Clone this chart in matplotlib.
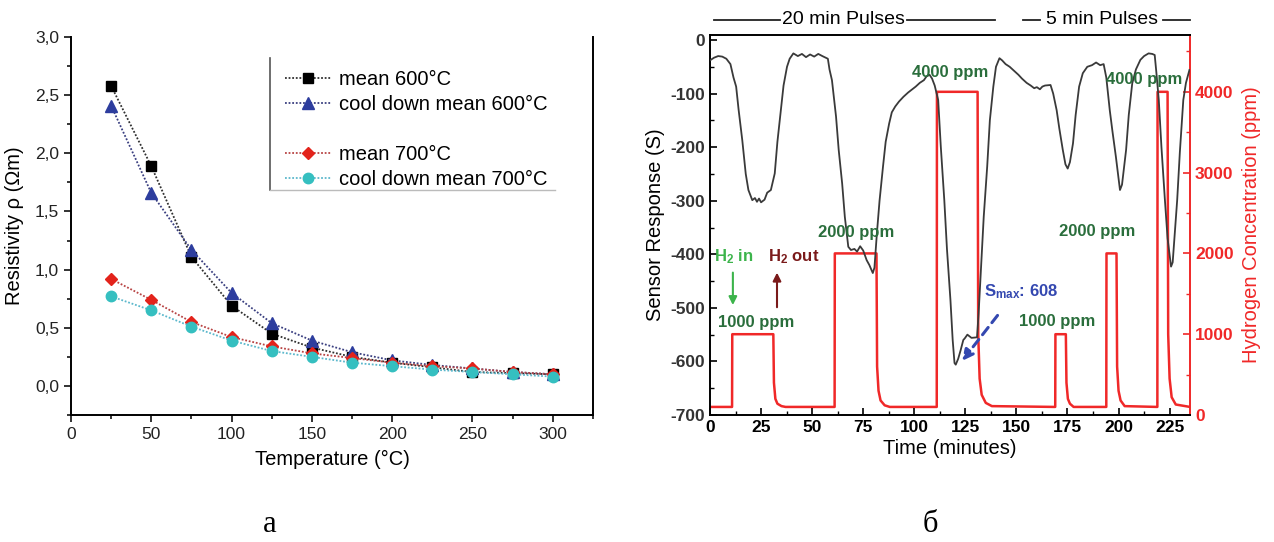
import matplotlib
matplotlib.use('Agg')
import matplotlib.pyplot as plt
import matplotlib.transforms as mtransforms
from matplotlib.lines import Line2D
from matplotlib.ticker import MultipleLocator, FuncFormatter

plt.rcParams['font.family'] = ['Liberation Sans', 'DejaVu Sans']
plt.rcParams['mathtext.fontset'] = 'custom'
plt.rcParams['mathtext.rm'] = 'Liberation Sans'
plt.rcParams['mathtext.bf'] = 'Liberation Sans:bold'
plt.rcParams['mathtext.it'] = 'Liberation Sans:italic'

# ---------------- data: panel (a) ----------------
temps = [25, 50, 75, 100, 125, 150, 175, 200, 225, 250, 275, 300]
mean600 = [2.58, 1.89, 1.11, 0.69, 0.45, 0.33, 0.25, 0.20, 0.16, 0.12, 0.11, 0.10]
cool600 = [2.41, 1.66, 1.17, 0.80, 0.54, 0.39, 0.29, 0.22, 0.18, 0.15, 0.12, 0.10]
mean700 = [0.92, 0.74, 0.55, 0.42, 0.34, 0.28, 0.24, 0.20, 0.17, 0.15, 0.12, 0.10]
cool700 = [0.77, 0.65, 0.51, 0.39, 0.30, 0.25, 0.20, 0.17, 0.14, 0.12, 0.10, 0.08]
labels_a = ['mean 600°C', 'cool down mean 600°C', 'mean 700°C', 'cool down mean 700°C']

# ---------------- data: panel (b) ----------------
h2_t = [0, 10.8, 10.9, 31.0, 31.3, 32.0, 33.0, 35.0, 37.0,
        61.0, 61.1, 81.5, 81.8, 82.5, 83.5, 85.5, 88.0,
        111.0, 111.1, 131.0, 131.3, 132.0, 133.0, 135.0, 138.0,
        169.0, 169.1, 174.2, 174.5, 175.2, 176.2, 178.0,
        194.0, 194.1, 199.0, 199.3, 200.0, 201.0, 203.0,
        219.0, 219.1, 224.0, 224.3, 225.0, 226.0, 228.0, 235.0]
h2_ppm = [100, 100, 1000, 1000, 400, 200, 140, 110, 100,
          100, 2000, 2000, 600, 300, 180, 120, 100,
          100, 4000, 4000, 1000, 450, 250, 150, 110,
          100, 1000, 1000, 400, 200, 140, 100,
          100, 2000, 2000, 600, 300, 180, 110,
          100, 4000, 4000, 1000, 450, 220, 130, 100]

s_t = [0, 2, 4, 6, 8, 10, 11.5, 12.8, 14, 15.8, 17.5, 18.8, 20.7, 22, 23, 24, 25, 26.7, 28, 29.8,
       31.7, 33, 34.7, 36, 37.7, 39, 40.8, 43, 45, 47, 49, 51, 53, 55, 57.7, 58.5, 59.7, 61.7, 63,
       64.7, 66, 67.7, 69, 70.7, 72, 73.5, 75, 76.7, 78, 79.7, 80.5, 81.7, 83, 84.7, 86, 87.7, 89,
       90.7, 92.5, 94.7, 97, 100.7, 102.7, 104.7, 106, 107.5, 108.7, 110, 111.7, 113, 114.7, 116,
       117.7, 118.8, 119.7, 120.3, 121.5, 122.7, 124, 124.7, 126, 128, 130.7, 131.5, 132.7, 134,
       135.7, 137, 138.7, 140, 141.7, 143, 144.7, 146.7, 149, 151, 152.7, 155, 157, 158.7, 160,
       161.5, 162.7, 164, 166.7, 168, 169.7, 171, 172.7, 174, 175.1, 176.2, 177.7, 179, 180.7,
       182.5, 184.7, 187, 189, 191, 192.7, 194, 195.7, 197, 198.7, 200.7, 201.7, 203.7, 205,
       206.7, 208.5, 210.7, 212.5, 214.7, 216.5, 217.7, 218.5, 219.7, 221, 222.7, 224, 225.7,
       226.5, 228.7, 230, 231.7, 233, 234.7]
s_val = [-38, -33, -30, -31, -35, -45, -70, -87, -130, -187, -250, -280, -299, -295, -302, -296, -303, -298, -285, -280,
         -249, -190, -131, -85, -50, -35, -25, -30, -26, -32, -27, -31, -26, -30, -35, -55, -75, -143, -205,
         -268, -330, -386, -392, -390, -395, -385, -393, -411, -420, -435, -425, -361, -300, -236, -190, -156, -135,
         -124, -115, -106, -98, -87, -80, -75, -68, -65, -72, -85, -112, -200, -299, -390,
         -485, -560, -603, -606, -595, -579, -560, -557, -550, -556, -555, -510, -423, -330,
         -236, -150, -87, -50, -34, -38, -45, -50, -58, -65, -72, -80, -85, -90, -88,
         -92, -87, -85, -84, -100, -131, -165, -205, -232, -240, -228, -193, -140, -87,
         -62, -50, -47, -42, -47, -45, -70, -131, -170, -218, -280, -270, -205, -140,
         -81, -55, -37, -30, -25, -26, -28, -60, -112, -200, -299, -370, -423,
         -415, -299, -210, -112, -80, -56]

ann_text = ['1000 ppm', '2000 ppm', '4000 ppm', '1000 ppm', '2000 ppm', '4000 ppm']
ann_t = [22.8, 71.3, 117.6, 169.9, 189.5, 212.3]
ann_s = [-528, -360, -61, -526, -358, -73]

# ---------------- figure ----------------
fig = plt.figure(figsize=(12.74, 5.42), dpi=100)

# ===== panel (a) =====
ax1 = fig.add_axes([0.0557, 0.2343, 0.4097, 0.6974])
styles = [
    (mean600, 's', '#000000', '#303030', 7.5),
    (cool600, '^', '#2d3d9e', '#3a3f80', 8.5),
    (mean700, 'D', '#e3231b', '#b84444', 6.5),
    (cool700, 'o', '#35bfc0', '#5cb8cc', 7.5),
]
handles = []
for (vals, mk, mc, lc, ms), lab in zip(styles, labels_a):
    h, = ax1.plot(temps, vals, linestyle=(0, (1, 1)), color=lc, lw=1.3,
                  marker=mk, markersize=ms, markerfacecolor=mc, markeredgecolor=mc,
                  label=lab)
    handles.append(h)

ax1.set_xlim(0, 325)
ax1.set_ylim(-0.25, 3.0)
ax1.xaxis.set_major_locator(MultipleLocator(50))
ax1.xaxis.set_minor_locator(MultipleLocator(25))
ax1.yaxis.set_major_locator(MultipleLocator(0.5))
ax1.yaxis.set_minor_locator(MultipleLocator(0.25))
ax1.xaxis.set_major_formatter(FuncFormatter(lambda v, p: '%d' % v if v <= 300 else ''))
ax1.yaxis.set_major_formatter(FuncFormatter(lambda v, p: ('%.1f' % v).replace('.', ',')))
ax1.spines['top'].set_visible(False)
for s in ['left', 'bottom', 'right']:
    ax1.spines[s].set_linewidth(1.4)
ax1.tick_params(which='major', direction='out', length=5, width=1.3, labelsize=12.5, colors='#222222')
ax1.tick_params(which='minor', direction='out', length=3, width=1.1)
ax1.tick_params(axis='y', which='both', right=False)
ax1.set_xlabel('Temperature (°C)', fontsize=14.5, labelpad=6)
ax1.set_ylabel('Resistivity ρ (Ωm)', fontsize=14.5, labelpad=8)

blank = Line2D([], [], linestyle='none', marker='none')
leg = ax1.legend([handles[0], handles[1], blank, handles[2], handles[3]],
                 [labels_a[0], labels_a[1], ' ', labels_a[2], labels_a[3]],
                 loc='upper left', bbox_to_anchor=(275 / 1274, 1 - 60 / 542),
                 bbox_transform=fig.transFigure, frameon=False, fontsize=14.5,
                 handlelength=2.3, handletextpad=0.4, labelspacing=0.3, borderpad=0)
# legend frame remnants (left and bottom edges)
fig.add_artist(Line2D([270 / 1274, 270 / 1274], [1 - 58 / 542, 1 - 190 / 542],
                      transform=fig.transFigure, color='#555555', lw=1.2))
fig.add_artist(Line2D([270 / 1274, 555 / 1274], [1 - 190 / 542, 1 - 190 / 542],
                      transform=fig.transFigure, color='#bbbbbb', lw=1.0))

# ===== panel (b) =====
ax2 = fig.add_axes([0.5573, 0.2343, 0.3768, 0.7011])
ax3 = ax2.twinx()
red = '#f02828'
ax3.plot(h2_t, h2_ppm, color=red, lw=1.8, zorder=2)
ax2.plot(s_t, s_val, color='#3a3a3a', lw=1.3, zorder=3)
ax2.set_zorder(ax3.get_zorder() + 1)
ax2.patch.set_visible(False)

ax2.set_xlim(0, 235)
ax2.set_ylim(-700, 9.3)
ax3.set_ylim(0, 4703)
ax2.xaxis.set_major_locator(MultipleLocator(25))
ax2.xaxis.set_minor_locator(MultipleLocator(12.5))
ax2.yaxis.set_major_locator(MultipleLocator(100))
ax2.yaxis.set_minor_locator(MultipleLocator(50))
ax3.yaxis.set_major_locator(MultipleLocator(1000))
ax3.yaxis.set_minor_locator(MultipleLocator(500))
ax2.yaxis.set_major_formatter(FuncFormatter(lambda v, p: '%d' % v))

for s in ['left', 'bottom', 'top']:
    ax2.spines[s].set_linewidth(1.4)
ax2.spines['right'].set_visible(False)
for s in ['left', 'bottom', 'top']:
    ax3.spines[s].set_visible(False)
ax3.spines['right'].set_color(red)
ax3.spines['right'].set_linewidth(1.4)

ax2.tick_params(which='major', direction='in', length=5, width=1.2, labelsize=12.5, top=False)
ax2.tick_params(which='minor', direction='in', length=3, width=1.0, top=False)
ax2.tick_params(axis='y', which='both', right=False)
ax3.tick_params(axis='y', which='major', direction='in', length=5, width=1.2, colors=red, labelsize=12.5)
ax3.tick_params(axis='y', which='minor', direction='in', length=3, width=1.0, colors=red)
for lab in ax2.get_xticklabels() + ax2.get_yticklabels():
    lab.set_fontweight('bold')
for lab in ax2.get_yticklabels():
    lab.set_color('#333333')
for lab in ax3.get_yticklabels():
    lab.set_fontweight('bold')

ax2.set_xlabel('Time (minutes)', fontsize=14.5, labelpad=3)
ax2.set_ylabel('Sensor Response (S)', fontsize=14.5, labelpad=4)
ax3.set_ylabel('Hydrogen Concentration (ppm)', fontsize=14.5, color=red, labelpad=6)

green = '#2a6e3c'
for txt, t, s in zip(ann_text, ann_t, ann_s):
    ax2.text(t, s, txt, color=green, fontsize=12, fontweight='bold', ha='center', va='center', zorder=5)

ax2.text(11.7, -404, r'H$_\mathbf{2}$ in', color='#3cb44b', fontsize=12, fontweight='bold',
         ha='center', va='center', zorder=5)
ax2.annotate('', xy=(11.2, -500), xytext=(11.2, -429),
             arrowprops=dict(arrowstyle='-|>', color='#3cb44b', lw=1.5, mutation_scale=12), zorder=5)
ax2.text(40.8, -404, r'H$_\mathbf{2}$ out', color='#7a1a1a', fontsize=12, fontweight='bold',
         ha='center', va='center', zorder=5)
ax2.annotate('', xy=(32.8, -429), xytext=(32.8, -504),
             arrowprops=dict(arrowstyle='-|>', color='#7a1a1a', lw=1.5, mutation_scale=12), zorder=5)
ax2.text(152.5, -470, r'S$_\mathbf{max}$: 608', color='#3448b0', fontsize=12, fontweight='bold',
         ha='center', va='center', zorder=5)
ax2.annotate('', xy=(122.6, -603), xytext=(141.6, -510),
             arrowprops=dict(arrowstyle='-|>', color='#3448b0', lw=2.2, linestyle=(0, (3, 2)),
                             mutation_scale=16), zorder=5)

# pulse headers above panel (b)
tb = mtransforms.blended_transform_factory(ax2.transData, fig.transFigure)
yh = 1 - 20 / 542
ax2.text(65.1, yh, '20 min Pulses', transform=tb, ha='center', va='center', fontsize=14)
ax2.text(191.8, yh, '5 min Pulses', transform=tb, ha='center', va='center', fontsize=14)
for x0, x1 in [(2.0, 34.2), (96.4, 139.4), (153.1, 161.4), (221.6, 234.8)]:
    ax2.plot([x0, x1], [yh, yh], transform=tb, color='#222222', lw=1.3, clip_on=False)

# panel letters
fig.text(270 / 1274, 1 - 525 / 542, 'а', fontsize=22, family='Liberation Serif', ha='center', va='center')
fig.text(930 / 1274, 1 - 525 / 542, 'б', fontsize=22, family='Liberation Serif', ha='center', va='center')

fig.savefig('out.png', dpi=100)
